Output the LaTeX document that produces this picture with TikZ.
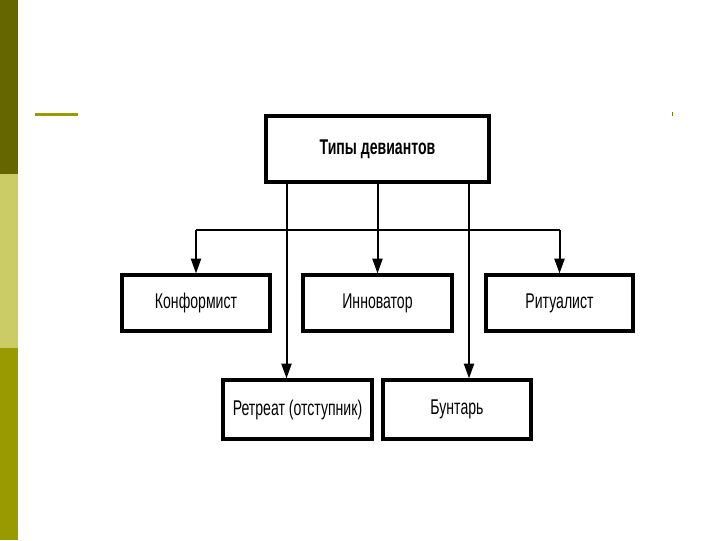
\documentclass[tikz,border=0pt]{standalone}
\usepackage{fontspec}
\setmainfont[FakeStretch=0.66]{Liberation Sans}
\usetikzlibrary{arrows.meta}
\definecolor{oliveA}{HTML}{666600}
\definecolor{oliveB}{HTML}{CCCC66}
\definecolor{oliveC}{HTML}{999900}
\tikzset{
  box/.style={draw=black, line width=2.4pt, fill=white, inner sep=0pt, font=\fontsize{16}{18}\selectfont},
  conn/.style={draw=black, line width=1.5pt},
  arr/.style={conn, -{Triangle[length=11pt,width=7.5pt]}},
}
\begin{document}
\begin{tikzpicture}[x=0.75pt,y=-0.75pt]
\useasboundingbox (0,0) rectangle (720,540);
% side bar
\fill[oliveA] (0,0) rectangle (18,174);
\fill[oliveB] (0,174) rectangle (18,348);
\fill[oliveC] (0,348) rectangle (18,540);
\fill[oliveC] (35,112.5) rectangle (78,115.5);
\fill[oliveC!80!black] (671.5,112) rectangle (672.7,115.5);
% nodes
\node[box, minimum width=223*0.75pt, minimum height=66*0.75pt] (top) at (377.5,149) {\bfseries Типы девиантов};
\node[box, minimum width=148*0.75pt, minimum height=56*0.75pt] (kon) at (196,303) {Конформист};
\node[box, minimum width=149*0.75pt, minimum height=56*0.75pt] (inn) at (377.5,303) {Инноватор};
\node[box, minimum width=147*0.75pt, minimum height=56*0.75pt] (rit) at (559.5,303) {Ритуалист};
\node[box, minimum width=149*0.75pt, minimum height=59*0.75pt] (ret) at (297.5,409.5) {Ретреат (отступник)};
\node[box, minimum width=148*0.75pt, minimum height=59*0.75pt] (bun) at (457,409.5) {Бунтарь};
% coordinates
\coordinate (xl) at (286.5,0);
\coordinate (xr) at (469,0);
\coordinate (bus) at (0,230);
% connectors
\draw[arr] (top.south -| xl) -- (ret.north -| xl);
\draw[arr] (top.south -| xr) -- (ret.north -| xr);
\draw[arr] (top.south) -- (inn.north);
\draw[conn] (kon.north |- bus) -- (rit.north |- bus);
\draw[arr] (kon.north |- bus) -- (kon.north);
\draw[arr] (rit.north |- bus) -- (rit.north);
\end{tikzpicture}
\end{document}
